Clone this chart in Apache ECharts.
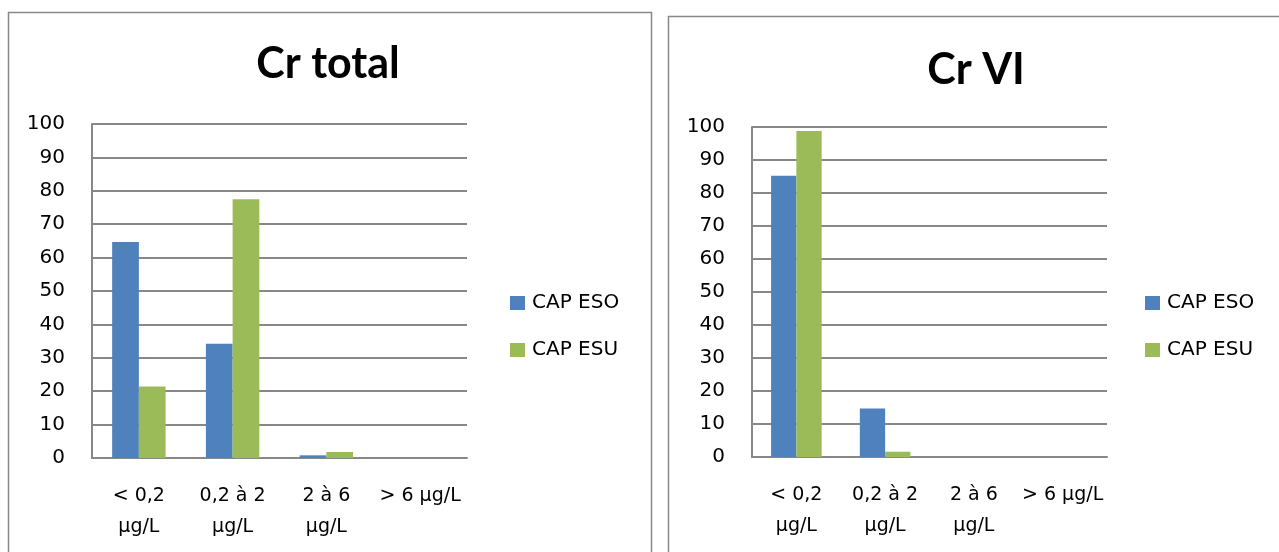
<!DOCTYPE html>
<html>
<head>
<meta charset="utf-8">
<script src="https://cdn.jsdelivr.net/npm/echarts@6/dist/echarts.min.js"></script>
<style>
  html, body { margin: 0; padding: 0; background: #fff; }
  #chart { width: 1279px; height: 552px; }
</style>
</head>
<body>
<div id="chart"></div>
<script>
// Concentration classes (x axis)
const categories = ['< 0,2\nµg/L', '0,2 à 2\nµg/L', '2 à 6\nµg/L', '> 6 µg/L'];
const seriesNames = ['CAP ESO', 'CAP ESU'];
const panelTitles = ['Cr total', 'Cr VI'];

// Percentages per class, Cr total
const crTotalESO = [64.7, 34.2, 0.8, 0];
const crTotalESU = [21.4, 77.5, 1.8, 0];

// Percentages per class, Cr VI
const crVIESO = [85.2, 14.7, 0, 0];
const crVIESU = [98.8, 1.6, 0, 0];

const yTicks = { min: 0, max: 100, interval: 10 };

const TEXT_FONT = '"DejaVu Sans", sans-serif';
const TITLE_FONT = 'Lato, sans-serif';
const colors = ['#4F81BD', '#9BBB59'];
const axisGray = '#888888';

const chart = echarts.init(document.getElementById('chart'), null, { renderer: 'canvas' });

function yAxis(gridIndex, margin) {
  return {
    type: 'value', gridIndex,
    min: yTicks.min, max: yTicks.max, interval: yTicks.interval,
    axisLine: { show: true, lineStyle: { color: axisGray, width: 2 } },
    axisTick: { show: false },
    splitLine: { show: true, lineStyle: { color: axisGray, width: 2 } },
    axisLabel: { color: '#000', fontFamily: TEXT_FONT, fontSize: 20, margin }
  };
}
function xAxis(gridIndex) {
  return {
    type: 'category', gridIndex, data: categories,
    axisLine: { show: true, lineStyle: { color: axisGray, width: 2 } },
    axisTick: { show: false },
    axisLabel: { color: '#000', fontFamily: TEXT_FONT, fontSize: 19, lineHeight: 31, margin: 23, interval: 0 }
  };
}
function bars(name, data, idx, color) {
  return {
    type: 'bar', name, data, xAxisIndex: idx, yAxisIndex: idx,
    itemStyle: { color }, barGap: '0%', barCategoryGap: '43%',
    emphasis: { disabled: true }
  };
}
function legend(left) {
  return {
    orient: 'vertical', left, top: 293, padding: 0,
    itemWidth: 15, itemHeight: 14, itemGap: 27,
    icon: 'rect', data: seriesNames, selectedMode: false,
    textStyle: { fontFamily: TEXT_FONT, fontSize: 20, color: '#000', padding: [0, 0, 0, 2] }
  };
}

chart.setOption({
  animation: false,
  graphic: [
    { type: 'rect', shape: { x: 8.5, y: 12.5, width: 643, height: 560 },
      style: { fill: 'none', stroke: axisGray, lineWidth: 1.5 } },
    { type: 'rect', shape: { x: 668.5, y: 16.5, width: 640, height: 560 },
      style: { fill: 'none', stroke: axisGray, lineWidth: 1.5 } }
  ],
  title: [
    { text: panelTitles[0], left: 323, top: 38, textAlign: 'center',
      textStyle: { fontFamily: TITLE_FONT, fontSize: 43, fontWeight: 'bold', color: '#000' } },
    { text: panelTitles[1], left: 971, top: 44, textAlign: 'center',
      textStyle: { fontFamily: TITLE_FONT, fontSize: 43, fontWeight: 'bold', color: '#000' } }
  ],
  legend: [legend(510), legend(1145)],
  grid: [
    { left: 92, top: 124, width: 375, height: 334 },
    { left: 752, top: 127, width: 355, height: 330 }
  ],
  xAxis: [xAxis(0), xAxis(1)],
  yAxis: [yAxis(0, 27), yAxis(1, 27)],
  series: [
    bars(seriesNames[0], crTotalESO, 0, colors[0]),
    bars(seriesNames[1], crTotalESU, 0, colors[1]),
    bars(seriesNames[0], crVIESO, 1, colors[0]),
    bars(seriesNames[1], crVIESU, 1, colors[1])
  ]
});
</script>
</body>
</html>
